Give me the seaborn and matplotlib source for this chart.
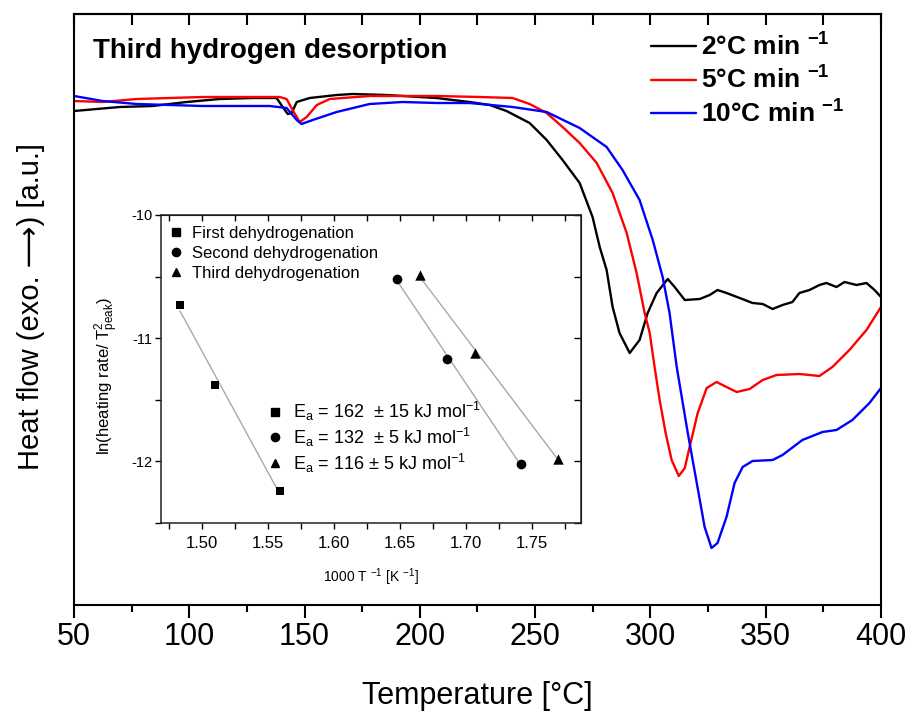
import numpy as np
import pandas as pd
import matplotlib
matplotlib.use("Agg")
import matplotlib.pyplot as plt
from matplotlib.lines import Line2D
from matplotlib.ticker import MultipleLocator
import seaborn as sns

# DSC traces of the third desorption (a.u.)
t_2 = [50, 69.8, 84.1, 98.9, 113.2, 127.5, 137.9, 140.5, 142.7, 144.4, 146.6, 152.2,
       163.9, 170.9, 185.6, 199.9, 207.3, 214.2, 221.6, 230.3, 237.6, 247.6, 255.0,
       261.9, 269.3, 274.9, 278.0, 281.0, 283.6, 286.6, 291.0, 295.3, 298.8, 302.7,
       307.5, 310.5, 314.9, 321.4, 325.7, 329.1, 333.0, 338.7, 344.3, 348.7, 353.0,
       357.3, 361.6, 364.6, 369.0, 373.3, 376.3, 380.7, 384.2, 389.4, 393.7, 397.2, 400]
hf_2 = [-0.11, -0.07, -0.06, -0.02, 0.01, 0.02, 0.02, -0.07, -0.14, -0.13, -0.02, 0.02,
        0.05, 0.06, 0.05, 0.03, 0.02, 0.00, -0.02, -0.05, -0.11, -0.23, -0.40,
        -0.60, -0.83, -1.17, -1.47, -1.70, -2.07, -2.33, -2.53, -2.40, -2.13, -1.93,
        -1.79, -1.87, -2.00, -1.99, -1.95, -1.90, -1.93, -1.98, -2.03, -2.04, -2.09,
        -2.05, -2.02, -1.93, -1.90, -1.85, -1.83, -1.87, -1.82, -1.85, -1.83, -1.90, -1.97]

t_5 = [50, 62.4, 77.2, 105.8, 139.2, 142.2, 144.8, 147.9, 150.9, 155.3, 160.9, 178.2,
       207.3, 225.9, 240.2, 247.6, 255.0, 261.9, 269.3, 276.7, 283.6, 289.7, 294.0,
       297.5, 299.7, 301.8, 304.0, 306.6, 309.2, 312.3, 314.9, 317.0, 320.5, 324.4,
       328.7, 333.0, 337.4, 343.0, 348.7, 354.7, 364.6, 373.3, 378.9, 386.3, 393.7, 400]
hf_5 = [-0.01, -0.02, 0.01, 0.03, 0.03, 0.01, -0.10, -0.22, -0.17, -0.05, 0.01, 0.04,
        0.04, 0.03, 0.02, -0.04, -0.13, -0.27, -0.43, -0.63, -0.93, -1.33, -1.73,
        -2.13, -2.33, -2.67, -3.00, -3.33, -3.60, -3.76, -3.68, -3.47, -3.13, -2.88,
        -2.82, -2.87, -2.92, -2.89, -2.80, -2.75, -2.74, -2.76, -2.67, -2.50, -2.30, -2.07]

t_10 = [50, 62.4, 77.2, 105.8, 134.9, 142.2, 146.6, 148.7, 153.5, 163.9, 178.2, 192.5,
        207.3, 221.6, 240.2, 255.0, 269.3, 281.0, 287.9, 295.3, 301.0, 305.3, 308.3,
        311.4, 316.2, 320.1, 323.5, 326.5, 329.1, 333.0, 336.5, 340.0, 344.3, 353.0,
        357.3, 365.9, 374.6, 380.7, 387.6, 395.0, 400]
hf_10 = [0.04, -0.01, -0.04, -0.06, -0.06, -0.08, -0.20, -0.24, -0.20, -0.12, -0.04, -0.02,
         -0.03, -0.03, -0.07, -0.12, -0.28, -0.47, -0.70, -1.00, -1.40, -1.77, -2.13,
         -2.67, -3.33, -3.83, -4.27, -4.48, -4.43, -4.17, -3.83, -3.67, -3.61, -3.60,
         -3.55, -3.40, -3.32, -3.30, -3.20, -3.03, -2.88]

rate_labels = [r"2°C min $^{\mathbf{-1}}$", r"5°C min $^{\mathbf{-1}}$", r"10°C min $^{\mathbf{-1}}$"]
rate_colors = ["#000000", "#ff0000", "#0000ff"]

# Kissinger plot (inset)
inv_t_first = [1.4836, 1.5103, 1.5593]
ln_first = [-10.73, -11.38, -12.24]
inv_t_second = [1.6482, 1.6856, 1.7417]
ln_second = [-10.52, -11.165, -12.02]
inv_t_third = [1.6654, 1.7071, 1.7702]
ln_third = [-10.49, -11.12, -11.98]
step_labels = ["First dehydrogenation", "Second dehydrogenation", "Third dehydrogenation"]
step_markers = ["s", "o", "^"]
ea_labels = [r"E$_\mathrm{a}$ = 162  ± 15 kJ mol$^{\mathrm{-1}}$",
             r"E$_\mathrm{a}$ = 132  ± 5 kJ mol$^{\mathrm{-1}}$",
             r"E$_\mathrm{a}$ = 116 ± 5 kJ mol$^{\mathrm{-1}}$"]

sns.set_style("ticks")
plt.rcParams["font.family"] = ["Liberation Sans", "DejaVu Sans"]
plt.rcParams["mathtext.fontset"] = "custom"
plt.rcParams["mathtext.rm"] = "Liberation Sans"
plt.rcParams["mathtext.it"] = "Liberation Sans:italic"
plt.rcParams["mathtext.bf"] = "Liberation Sans:bold"
for key in ["text.color", "axes.labelcolor", "xtick.color", "ytick.color", "axes.edgecolor"]:
    plt.rcParams[key] = "black"

dsc = pd.concat([
    pd.DataFrame({"T": t, "hf": h, "rate": lab})
    for t, h, lab in zip([t_2, t_5, t_10], [hf_2, hf_5, hf_10], rate_labels)
])
kis = pd.concat([
    pd.DataFrame({"x": x, "y": y, "step": lab})
    for x, y, lab in zip([inv_t_first, inv_t_second, inv_t_third],
                         [ln_first, ln_second, ln_third], step_labels)
])

fig = plt.figure(figsize=(9.14, 7.11), dpi=100)
ax = fig.add_axes([74 / 914, 106 / 711, 807 / 914, 591 / 711])

sns.lineplot(data=dsc, x="T", y="hf", hue="rate", palette=dict(zip(rate_labels, rate_colors)),
             sort=False, estimator=None, lw=1.7, legend=False, ax=ax)

ax.set_xlim(50, 400)
ax.set_ylim(-5.05, 0.86)
ax.set_yticks([])
ax.xaxis.set_major_locator(MultipleLocator(50))
ax.xaxis.set_minor_locator(MultipleLocator(25))
ax.tick_params(axis="x", which="major", direction="out", length=9, width=1.5, labelsize=22, pad=3)
ax.tick_params(axis="x", which="minor", direction="out", length=5, width=1.5)
for sp in ax.spines.values():
    sp.set_linewidth(1.5)
top = ax.secondary_xaxis("top")
top.xaxis.set_major_locator(MultipleLocator(25))
top.tick_params(direction="in", length=8, width=1.5, labeltop=False)
top.spines["top"].set_linewidth(1.5)

ax.set_xlabel("Temperature [°C]", fontsize=22, labelpad=21)
ax.set_ylabel("Heat flow (exo. \u27f6) [a.u.]", fontsize=21)
ax.yaxis.set_label_coords(-0.036, 0.505)

ax.text(0.0235, 0.9256, "Third hydrogen desorption", transform=ax.transAxes,
        fontsize=20, fontweight="bold", va="baseline", ha="left")

handles = [Line2D([], [], color=c, lw=1.7) for c in rate_colors]
ax.legend(handles, rate_labels, loc="upper right", bbox_to_anchor=(0.955, 0.968),
          frameon=False, prop={"weight": "bold", "size": 19}, handlelength=1.7,
          handletextpad=0.2, labelspacing=0.25, borderpad=0, borderaxespad=0)

# inset: Kissinger plot
ax_in = fig.add_axes([161 / 914, 188 / 711, 420 / 914, 308 / 711])
sizes = [6, 7, 7.5]
for lab, mk, ms in zip(step_labels, step_markers, sizes):
    sub = kis[kis["step"] == lab]
    sns.regplot(data=sub, x="x", y="y", scatter=False, ci=None, truncate=True,
                line_kws={"color": "#a8a8a8", "lw": 1.0}, ax=ax_in)
    sns.scatterplot(data=sub, x="x", y="y", marker=mk, s=ms ** 2, color="black",
                    edgecolor="black", linewidth=0, ax=ax_in, zorder=3)

ax_in.set_xlim(1.4692, 1.7873)
ax_in.set_ylim(-12.5, -10)
ax_in.xaxis.set_major_locator(MultipleLocator(0.05))
ax_in.xaxis.set_minor_locator(MultipleLocator(0.025))
ax_in.yaxis.set_major_locator(MultipleLocator(1))
ax_in.yaxis.set_minor_locator(MultipleLocator(0.5))
ax_in.xaxis.set_major_formatter(lambda v, p: f"{v:.2f}")
ax_in.yaxis.set_major_formatter(lambda v, p: f"{v:.0f}")
ax_in.tick_params(axis="x", which="both", direction="out", length=4, width=1, labelsize=12, pad=5)
ax_in.tick_params(axis="y", which="both", direction="out", length=4, width=1, labelsize=10.5, pad=2)
for sp in ax_in.spines.values():
    sp.set_linewidth(1.1)
    sp.set_color("#222222")
in_top = ax_in.secondary_xaxis("top")
in_top.xaxis.set_major_locator(MultipleLocator(0.025))
in_top.tick_params(direction="in", length=4, width=1, labeltop=False)
in_right = ax_in.secondary_yaxis("right")
in_right.yaxis.set_major_locator(MultipleLocator(0.5))
in_right.tick_params(direction="in", length=5, width=1, labelright=False)

ax_in.set_xlabel(r"1000 T $^{\mathrm{-1}}$ [K $^{\mathrm{-1}}$]", fontsize=10)
ax_in.xaxis.set_label_coords(0.5, -0.14)
ax_in.set_ylabel(r"ln(heating rate/ T$^{2}_{\mathrm{peak}}$)", fontsize=12)
ax_in.yaxis.set_label_coords(-0.095, 0.477)

mk_handles = [Line2D([], [], ls="none", marker=m, color="black", markersize=ms * 0.85)
              for m, ms in zip(step_markers, sizes)]
leg1 = ax_in.legend(mk_handles, step_labels, loc="upper left", bbox_to_anchor=(0.015, 0.965),
                    frameon=False, fontsize=12, handlelength=1.0, handletextpad=0.5,
                    labelspacing=0.3, borderpad=0, borderaxespad=0)
ax_in.add_artist(leg1)
ax_in.legend(mk_handles, ea_labels, loc="upper left", bbox_to_anchor=(0.25, 0.40),
             frameon=False, fontsize=13, handlelength=1.0, handletextpad=0.5,
             labelspacing=0.15, borderpad=0, borderaxespad=0)

fig.savefig("out.png", dpi=100)
